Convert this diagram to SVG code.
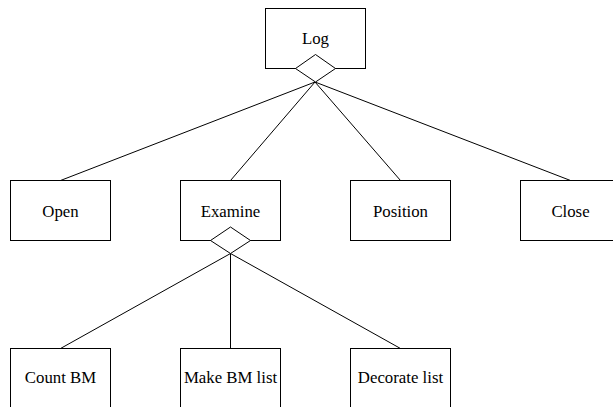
<svg xmlns="http://www.w3.org/2000/svg" width="613" height="407" viewBox="0 0 613 407">
  <style>
    .box { fill: #ffffff; stroke: #000000; stroke-width: 1; }
    .agg { fill: #ffffff; stroke: #000000; stroke-width: 1; }
    .edge { stroke: #000000; stroke-width: 1; fill: none; }
    .label { font-family: "Liberation Serif", "Times New Roman", serif; font-size: 16.8px; fill: #000000; text-anchor: middle; }
  </style>
  <rect width="613" height="407" fill="#ffffff"/>

  <!-- connectors: aggregation lines from diamond tips to child boxes -->
  <g id="connectors">
    <line class="edge" x1="315" y1="82" x2="60.5" y2="180.5"/>
    <line class="edge" x1="315" y1="82" x2="230.5" y2="180.5"/>
    <line class="edge" x1="315" y1="82" x2="400.5" y2="180.5"/>
    <line class="edge" x1="315" y1="82" x2="570.5" y2="180.5"/>
    <line class="edge" x1="230.5" y1="253.5" x2="60.5" y2="348.5"/>
    <line class="edge" x1="230.5" y1="253.5" x2="230.5" y2="348.5"/>
    <line class="edge" x1="230.5" y1="253.5" x2="400.5" y2="348.5"/>
  </g>

  <g id="log">
    <rect class="box" x="265.5" y="8.5" width="100" height="60"/>
    <text class="label" x="315.5" y="44">Log</text>
    <polygon class="agg" points="315.5,54.5 335.5,68.5 315.5,82 295.5,68.5"/>
  </g>

  <g id="open">
    <rect class="box" x="10.5" y="180.5" width="100" height="60"/>
    <text class="label" x="60.5" y="216.5">Open</text>
  </g>

  <g id="examine">
    <rect class="box" x="180.5" y="180.5" width="100" height="60"/>
    <text class="label" x="230.5" y="216.5">Examine</text>
    <polygon class="agg" points="230.5,227 250.5,240.5 230.5,253.5 210.5,240.5"/>
  </g>

  <g id="position">
    <rect class="box" x="350.5" y="180.5" width="100" height="60"/>
    <text class="label" x="400.5" y="216.5">Position</text>
  </g>

  <g id="close">
    <rect class="box" x="520.5" y="180.5" width="100" height="60"/>
    <text class="label" x="570.5" y="216.5">Close</text>
  </g>

  <g id="count-bm">
    <rect class="box" x="10.5" y="348.5" width="100" height="60"/>
    <text class="label" x="60.5" y="383">Count BM</text>
  </g>

  <g id="make-bm-list">
    <rect class="box" x="180.5" y="348.5" width="100" height="60"/>
    <text class="label" x="230.5" y="383">Make BM list</text>
  </g>

  <g id="decorate-list">
    <rect class="box" x="350.5" y="348.5" width="100" height="60"/>
    <text class="label" x="400.5" y="383">Decorate list</text>
  </g>
</svg>
